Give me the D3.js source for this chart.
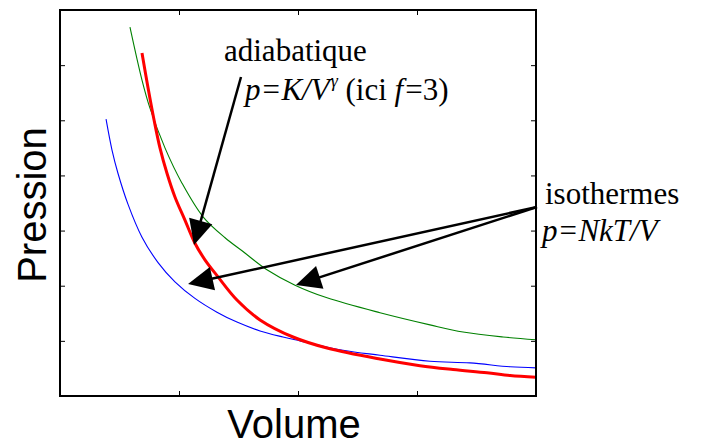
<!DOCTYPE html>
<html>
<head>
<meta charset="utf-8">
<script src="https://cdn.jsdelivr.net/npm/d3@7"></script>
<style>
html,body{margin:0;padding:0;background:#fff;}
svg{display:block;}
</style>
</head>
<body>
<svg id="chart" width="701" height="444"></svg>
<script>
// ---- data (axis units are arbitrary) ----
const xTicks = [1, 2, 3];
const yTicks = [1, 2, 3, 4, 5, 6];

const isoHighV = [0.588,0.689,0.756,0.882,1.025,1.202,1.387,1.538,1.739,1.975,2.244,2.689,3.109,3.387,3.723,4.0];
const isoHighP = [6.69,5.73,5.22,4.50,3.86,3.25,2.87,2.62,2.29,2.01,1.78,1.51,1.29,1.16,1.07,1.02];

const isoLowV = [0.387,0.437,0.487,0.571,0.689,0.824,0.966,1.134,1.319,1.487,1.681,1.874,2.017,2.378,2.689,3.109,3.445,3.782,4.0];
const isoLowP = [5.02,4.46,4.04,3.48,2.88,2.42,2.07,1.77,1.52,1.34,1.18,1.07,1.00,0.83,0.74,0.63,0.60,0.53,0.51];

const adiaV = [0.689,0.739,0.790,0.840,0.899,0.966,1.050,1.134,1.218,1.328,1.487,1.681,1.958,2.244,2.689,3.025,3.303,3.588,3.782,4.0];
const adiaP = [6.22,5.60,5.01,4.50,4.04,3.61,3.19,2.77,2.47,2.16,1.74,1.38,1.07,0.87,0.67,0.55,0.48,0.42,0.37,0.34];

// annotation arrows: [V, P] of start and of tip
const arrowFrom = [[1.521,5.785],[4.008,3.428],[4.008,3.428]];
const arrowTo   = [[1.126,2.738],[1.076,2.031],[1.983,2.013]];

// ---- layout ----
const svg = d3.select("#chart");
const L = 60, R = 536, T = 10, B = 396;
const x = d3.scaleLinear().domain([0,4]).range([L,R]);
const y = d3.scaleLinear().domain([0,7]).range([B,T]);

const line = d3.line().x(d=>x(d[0])).y(d=>y(d[1])).curve(d3.curveCatmullRom);
const zip = (a,b)=>a.map((v,i)=>[v,b[i]]);

// curves
svg.append("path").attr("d", line(zip(isoHighV, isoHighP)))
  .attr("fill","none").attr("stroke","#008000").attr("stroke-width",1.1);
svg.append("path").attr("d", line(zip(isoLowV, isoLowP)))
  .attr("fill","none").attr("stroke","#0000ff").attr("stroke-width",1.1);
svg.append("path").attr("d", line(zip(adiaV, adiaP)))
  .attr("fill","none").attr("stroke","#ff0000").attr("stroke-width",3).attr("stroke-linejoin","round");

// axes ticks (inward, all four sides)
const noLab = () => "";
svg.append("g").attr("transform",`translate(0,${B})`)
  .call(d3.axisBottom(x).tickValues(xTicks).tickSize(-5).tickFormat(noLab));
svg.append("g").attr("transform",`translate(0,${T})`)
  .call(d3.axisTop(x).tickValues(xTicks).tickSize(-5).tickFormat(noLab));
svg.append("g").attr("transform",`translate(${L},0)`)
  .call(d3.axisLeft(y).tickValues(yTicks).tickSize(-5).tickFormat(noLab));
svg.append("g").attr("transform",`translate(${R},0)`)
  .call(d3.axisRight(y).tickValues(yTicks).tickSize(-5).tickFormat(noLab));
svg.selectAll(".domain").remove();
svg.selectAll(".tick line").attr("stroke","#000").attr("stroke-width",1);

// frame
svg.append("rect").attr("x",L).attr("y",T).attr("width",R-L).attr("height",B-T)
  .attr("fill","none").attr("stroke","#000").attr("stroke-width",2);

// arrows
const headLen = 25, headHalf = 12;
arrowFrom.forEach((f,i)=>{
  const t = arrowTo[i];
  const x0 = x(f[0]), y0 = y(f[1]), x1 = x(t[0]), y1 = y(t[1]);
  const dx = x1-x0, dy = y1-y0, len = Math.hypot(dx,dy);
  const ux = dx/len, uy = dy/len;
  const bx = x1 - ux*headLen, by = y1 - uy*headLen;
  svg.append("line").attr("x1",x0).attr("y1",y0).attr("x2",bx+ux*2).attr("y2",by+uy*2)
    .attr("stroke","#000").attr("stroke-width",2.5);
  svg.append("path")
    .attr("d",`M${x1},${y1}L${bx-uy*headHalf},${by+ux*headHalf}L${bx+uy*headHalf},${by-ux*headHalf}Z`)
    .attr("fill","#000");
});

// text annotations
const serif = "'Liberation Serif','Times New Roman',Times,serif";
svg.append("text").attr("x",224).attr("y",61).attr("font-family",serif).attr("font-size",31)
  .text("adiabatique");
const t2 = svg.append("text").attr("x",245).attr("y",100).attr("font-family",serif).attr("font-size",31);
t2.append("tspan").attr("font-style","italic").text("p=K/V");
t2.append("tspan").attr("font-style","italic").attr("font-size",18).attr("dy",-13).attr("dx",1).text("γ");
t2.append("tspan").attr("dy",13).text(" (ici ");
t2.append("tspan").attr("font-style","italic").text("f");
t2.append("tspan").attr("dx",2).text("=3)");

svg.append("text").attr("x",545).attr("y",204).attr("font-family",serif).attr("font-size",31)
  .text("isothermes");
svg.append("text").attr("x",542).attr("y",241).attr("font-family",serif).attr("font-size",31)
  .attr("font-style","italic").text("p=NkT/V");

// axis titles
const sans = "'Liberation Sans',Arial,Helvetica,sans-serif";
svg.append("text").attr("x",(L+R)/2 - 4).attr("y",438).attr("text-anchor","middle")
  .attr("font-family",sans).attr("font-size",40).text("Volume");
svg.append("text").attr("transform","translate(46,205) rotate(-90)").attr("text-anchor","middle")
  .attr("font-family",sans).attr("font-size",40).text("Pression");
</script>
</body>
</html>
